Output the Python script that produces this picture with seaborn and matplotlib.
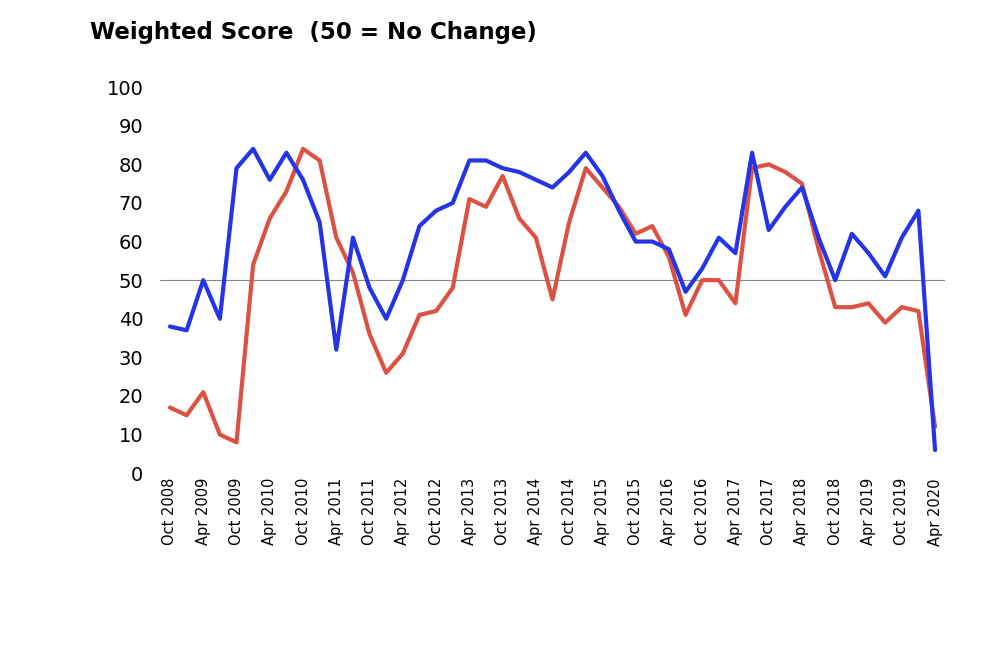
import numpy as np
import pandas as pd
import seaborn as sns
import matplotlib.pyplot as plt

# Quarterly survey, Oct 2008 .. Apr 2020
quarters = pd.date_range("2008-10-01", "2020-04-01", freq="QS-OCT")
last_three = [17, 15, 21, 10, 8, 54, 66, 73, 84, 81, 61, 52, 36, 26, 31, 41, 42, 48,
              71, 69, 77, 66, 61, 45, 65, 79, 74, 69, 62, 64, 56, 41, 50, 50, 44, 79,
              80, 78, 75, 58, 43, 43, 44, 39, 43, 42, 12]
next_twelve = [38, 37, 50, 40, 79, 84, 76, 83, 76, 65, 32, 61, 48, 40, 50, 64, 68, 70,
               81, 81, 79, 78, 76, 74, 78, 83, 77, 68, 60, 60, 58, 47, 53, 61, 57, 83,
               63, 69, 74, 61, 50, 62, 57, 51, 61, 68, 6]

df = pd.DataFrame({"idx": np.arange(len(quarters)),
                   "Last three months": last_three,
                   "Next twelve months": next_twelve})
long = df.melt(id_vars="idx", var_name="series", value_name="score")

sns.set_style("white")
plt.rcParams['font.family'] = ['DejaVu Sans']
plt.rcParams['text.color'] = 'black'

fig = plt.figure(figsize=(10, 6.5), dpi=100)
ax = fig.add_axes([0.16, 0.272, 0.785, 0.594])
sns.lineplot(data=long, x="idx", y="score", hue="series",
             palette={"Last three months": "#dc5142", "Next twelve months": "#2335e6"},
             linewidth=3, ax=ax, legend=True)
ax.axhline(50, color="#888888", linewidth=0.8, zorder=0)

ax.set_ylim(0, 100)
ax.set_yticks(range(0, 101, 10))
ax.set_xlim(-0.6, len(quarters) - 0.4)
tick_idx = list(range(0, len(quarters), 2))
ax.set_xticks(tick_idx)
ax.set_xticklabels([quarters[i].strftime("%b %Y") for i in tick_idx], rotation=90, fontsize=10.5)
ax.tick_params(axis="y", labelsize=14, length=0, colors="black", pad=12)
ax.tick_params(axis="x", length=0, colors="black")
ax.set_xlabel("")
ax.set_ylabel("")
sns.despine(ax=ax, left=True, bottom=True)

ax.legend(title=None, loc="center", bbox_to_anchor=(0.53, -0.54), ncol=2,
          frameon=False, fontsize=16, handlelength=2.2, columnspacing=3)
fig.text(0.09, 0.95, "Weighted Score  (50 = No Change)", fontsize=16.5,
         fontweight="bold", va="center")

fig.savefig("out.png")
